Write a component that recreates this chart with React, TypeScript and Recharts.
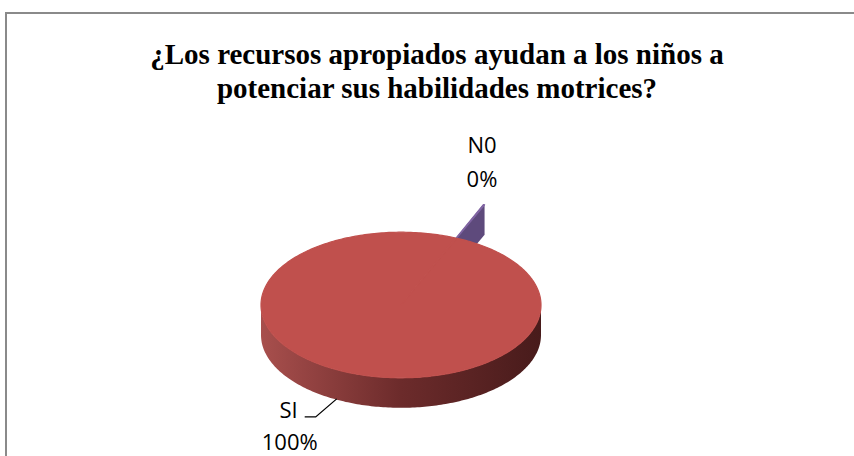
import React from 'react'
import { PieChart, Pie, Cell } from 'recharts'

// categories and values (N0 is a sliver that rounds to 0%)
const CATEGORIES = ['N0', 'SI']
const VALUES = [0.15, 100]

const TOP_COLORS = ['#8064a2', '#c0504d']
const WALL_COLORS: string[][] = [
  ['#5e4a7c', '#5e4a7c', '#5e4a7c'],
  ['#a84f4d', '#6c2b2b', '#481b1b'],
]
const EXPLODE: Record<string, number> = { N0: 0.5 }

const TILT = 0.52
const DEPTH = 30
const RAD = Math.PI / 180
const LABEL_FONT = '"Open Sans", "Noto Sans", sans-serif'

const data = CATEGORIES.map((name, i) => ({ name, value: VALUES[i] }))

function pt(cx: number, cy: number, r: number, a: number): [number, number] {
  return [cx + r * Math.cos(a * RAD), cy - r * TILT * Math.sin(a * RAD)]
}

function offsetFor(name: string, r: number, mid: number): [number, number] {
  const e = EXPLODE[name] ?? 0
  return [r * e * Math.cos(mid * RAD), -r * e * TILT * Math.sin(mid * RAD)]
}

function Slice3D(props: any) {
  const { cx, cy, outerRadius: r, startAngle, endAngle, midAngle } = props
  const name: string = props.payload?.name ?? props.name
  const idx = CATEGORIES.indexOf(name)
  const [ox, oy] = offsetFor(name, r, midAngle)
  const x0 = cx + ox
  const y0 = cy + oy
  const lo = Math.min(startAngle, endAngle)
  const hi = Math.max(startAngle, endAngle)
  const steps = Math.max(2, Math.ceil(hi - lo))
  const arc: { a: number; p: [number, number] }[] = []
  for (let i = 0; i <= steps; i++) {
    const a = lo + ((hi - lo) * i) / steps
    arc.push({ a, p: pt(x0, y0, r, a) })
  }
  const top = `M${x0},${y0} ` + arc.map(({ p }) => `L${p[0]},${p[1]}`).join(' ') + ' Z'

  // front wall runs (lower half of the ellipse)
  const runs: [number, number][][] = []
  let cur: [number, number][] = []
  arc.forEach(({ a, p }) => {
    if (Math.sin(a * RAD) <= 0.001) cur.push(p)
    else if (cur.length) { runs.push(cur); cur = [] }
  })
  if (cur.length) runs.push(cur)
  const walls = runs.filter(run => run.length > 1).map(run => {
    const upper = run.map(p => `${p[0]},${p[1]}`)
    const lower = [...run].reverse().map(p => `${p[0]},${p[1] + DEPTH}`)
    return 'M' + upper.join(' L') + ' L' + lower.join(' L') + ' Z'
  })

  const edges = [lo, hi].map(a => {
    const p = pt(x0, y0, r, a)
    return `M${x0},${y0} L${p[0]},${p[1]} L${p[0]},${p[1] + DEPTH} L${x0},${y0 + DEPTH} Z`
  })

  const gid = `wall-${name}`
  const wc = WALL_COLORS[idx]
  return (
    <g>
      <defs>
        <linearGradient id={gid} gradientUnits="userSpaceOnUse" x1={x0 - r} y1={0} x2={x0 + r} y2={0}>
          <stop offset="0%" stopColor={wc[0]} />
          <stop offset="50%" stopColor={wc[1]} />
          <stop offset="100%" stopColor={wc[2]} />
        </linearGradient>
      </defs>
      {edges.map((d, i) => <path key={'e' + i} d={d} fill={wc[1]} stroke="none" />)}
      {walls.map((d, i) => <path key={'w' + i} d={d} fill={`url(#${gid})`} stroke="none" />)}
      <path d={top} fill={TOP_COLORS[idx]} stroke={TOP_COLORS[idx]} strokeWidth={1.2} strokeLinejoin="round" />
    </g>
  )
}

function SliceLabel(props: any) {
  const { cx, cy, outerRadius: r, midAngle, percent } = props
  const name: string = props.payload?.name ?? props.name
  const pct = `${Math.round(percent * 100)}%`
  const [ox, oy] = offsetFor(name, r, midAngle)
  const [px, py] = pt(cx + ox, cy + oy, r, midAngle)
  const textStyle = { fontFamily: LABEL_FONT, fontSize: 22, fill: '#000' }
  if (Math.sin(midAngle * RAD) < 0) {
    // front slice: leader line from the wall bottom
    const ax = px - 9
    const ay = py + DEPTH - 3
    const ex = ax - 21
    const ey = ay + 18
    const hx = ex - 11
    return (
      <g>
        <path d={`M${ax},${ay} L${ex},${ey} L${hx},${ey}`} fill="none" stroke="#000" strokeWidth={1.3} />
        <text x={hx - 7} y={ey + 1} textAnchor="end" style={textStyle}>{name}</text>
        <text x={hx - 15} y={ey + 33} textAnchor="middle" style={textStyle}>{pct}</text>
      </g>
    )
  }
  return (
    <g>
      <text x={px - 2} y={py - 52} textAnchor="middle" style={textStyle}>{name}</text>
      <text x={px - 2} y={py - 18} textAnchor="middle" style={textStyle}>{pct}</text>
    </g>
  )
}

export default function App() {
  return (
    <div style={{ position: 'fixed', inset: 0, overflow: 'hidden', background: '#fff' }}>
      <div style={{ position: 'absolute', left: 5, top: 12, width: 864, height: 470, border: '2px solid #8a8a8a', boxSizing: 'border-box' }} />
      <div style={{
        position: 'absolute', left: 0, top: 37, width: 874, textAlign: 'center',
        fontFamily: '"Liberation Serif", "Times New Roman", serif', fontWeight: 'bold', fontSize: 29, lineHeight: '34px', color: '#000',
      }}>
        ¿Los recursos apropiados ayudan a los niños a<br />potenciar sus habilidades motrices?
      </div>
      <div style={{ position: 'absolute', left: 0, top: 0 }}>
        <PieChart width={854} height={456}>
          <Pie
            data={data}
            dataKey="value"
            nameKey="name"
            cx={396}
            cy={300}
            outerRadius={140}
            startAngle={67}
            endAngle={-293}
            stroke="none"
            shape={Slice3D}
            activeShape={Slice3D}
            inactiveShape={Slice3D}
            label={SliceLabel}
            labelLine={false}
            isAnimationActive={false}
          >
            {data.map((d, i) => <Cell key={d.name} fill={TOP_COLORS[i]} />)}
          </Pie>
        </PieChart>
      </div>
    </div>
  )
}
